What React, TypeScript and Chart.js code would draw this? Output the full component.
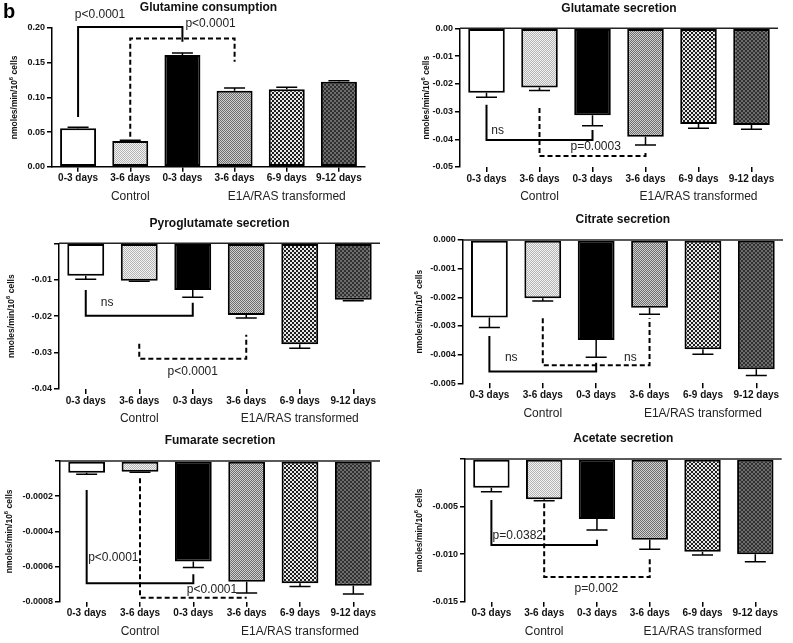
import React, { useEffect, useRef } from 'react';
import { Chart, registerables } from 'chart.js';
Chart.register(...registerables);

const FONT = '"Liberation Sans", Arial, sans-serif';

const categories = ['0-3 days', '3-6 days', '0-3 days', '3-6 days', '6-9 days', '9-12 days'];
const groupLabels = ['Control', 'E1A/RAS transformed'];
const groupLabelIndex = [1.0, 4.0];
const yAxisTitle = ['nmoles/min/10', '6', ' cells'];

// Glutamine consumption
const glutamineValues = [0.0555, 0.037, 0.161, 0.1096, 0.1116, 0.1226];
const glutamineErrors = [0.0015, 0.001, 0.003, 0.004, 0.003, 0.0015];
const glutamineTicks = [0, 0.2, 0.05];
const glutamineBrackets = [
  { dashed: false, pts: [[0, 0.0717], [0, 0.2014], [2, 0.2014], [2, 0.18]] },
  { dashed: true, pts: [[1, 0.0433], [1, 0.185], [3, 0.185], [3, 0.1514]] },
];
const glutamineNotes = [
  { text: 'p<0.0001', x: 0.42, y: 0.2188 },
  { text: 'p<0.0001', x: 2.54, y: 0.2067 },
];

// Glutamate secretion
const glutamateValues = [-0.0232, -0.0213, -0.0313, -0.0391, -0.0345, -0.0349];
const glutamateErrors = [0.0017, 0.0011, 0.0038, 0.003, 0.0015, 0.0015];
const glutamateTicks = [-0.05, 0, 0.01];
const glutamateBrackets = [
  { dashed: false, pts: [[0, -0.0276], [0, -0.0403], [2, -0.0403], [2, -0.0367]] },
  { dashed: true, pts: [[1, -0.0287], [1, -0.046], [3, -0.046], [3, -0.0439]] },
];
const glutamateNotes = [
  { text: 'ns', x: 0.21, y: -0.037 },
  { text: 'p=0.0003', x: 2.06, y: -0.0428 },
];

// Pyroglutamate secretion
const pyroValues = [-0.0089, -0.0103, -0.0128, -0.0197, -0.0277, -0.0155];
const pyroErrors = [0.001, 0.0001, 0.002, 0.0008, 0.0011, 0.0003];
const pyroTicks = [-0.04, 0, 0.01];
const pyroBrackets = [
  { dashed: false, pts: [[0, -0.0128], [0, -0.0199], [2, -0.0199], [2, -0.0163]] },
  { dashed: true, pts: [[1, -0.0276], [1, -0.0317], [3, -0.0317], [3, -0.0251]] },
];
const pyroNotes = [
  { text: 'ns', x: 0.4, y: -0.0163 },
  { text: 'p<0.0001', x: 2.0, y: -0.0352 },
];

// Citrate secretion
const citrateValues = [-0.0027, -0.00203, -0.00349, -0.00236, -0.00381, -0.00451];
const citrateErrors = [0.00035, 0.0001, 0.0006, 0.00023, 0.00018, 0.00022];
const citrateTicks = [-0.005, 0, 0.001];
const citrateBrackets = [
  { dashed: false, pts: [[0, -0.00335], [0, -0.00459], [2, -0.00459], [2, -0.00428]] },
  { dashed: true, pts: [[1, -0.00273], [1, -0.00437], [3, -0.00437], [3, -0.00273]] },
];
const citrateNotes = [
  { text: 'ns', x: 0.41, y: -0.0041 },
  { text: 'ns', x: 2.64, y: -0.0041 },
];

// Fumarate secretion
const fumarateValues = [-0.0000665, -0.0000606, -0.000572, -0.000686, -0.000695, -0.00071];
const fumarateErrors = [0.0000092, 0.0000034, 0.000034, 0.000065, 0.000019, 0.000046];
const fumarateTicks = [-0.0008, 0, 0.0002];
const fumarateBrackets = [
  { dashed: false, pts: [[0, -0.000165], [0, -0.000695], [2, -0.000695], [2, -0.000644]] },
  { dashed: true, pts: [[1, -0.0000985], [1, -0.000777], [3, -0.000777]] },
];
const fumarateNotes = [
  { text: 'p<0.0001', x: 0.5, y: -0.000551 },
  { text: 'p<0.0001', x: 2.35, y: -0.000733 },
];

// Acetate secretion
const acetateValues = [-0.00301, -0.00424, -0.0063, -0.0085, -0.00974, -0.01];
const acetateErrors = [0.00042, 0.00014, 0.00116, 0.00098, 0.00036, 0.0008];
const acetateTicks = [-0.015, 0, 0.005];
const acetateBrackets = [
  { dashed: false, pts: [[0, -0.0043], [0, -0.00903], [2, -0.00903], [2, -0.0085]] },
  { dashed: true, pts: [[1, -0.00466], [1, -0.0124], [3, -0.0124], [3, -0.0104]] },
];
const acetateNotes = [
  { text: 'p=0.0382', x: 0.5, y: -0.00806 },
  { text: 'p=0.002', x: 1.99, y: -0.0136 },
];

const panels = [
  { title: 'Glutamine consumption', values: glutamineValues, errors: glutamineErrors, ticks: glutamineTicks, decimals: 2, hideZero: false, negative: false, brackets: glutamineBrackets, notes: glutamineNotes, letter: 'b',
    box: { left: 0, top: 0, width: 395, height: 210 }, area: { l: 52, t: 28, r: 365, b: 166.7 }, yTitleOffset: 37 },
  { title: 'Glutamate secretion', values: glutamateValues, errors: glutamateErrors, ticks: glutamateTicks, decimals: 2, hideZero: false, negative: true, brackets: glutamateBrackets, notes: glutamateNotes, letter: '',
    box: { left: 395, top: 0, width: 398, height: 210 }, area: { l: 460, t: 28.3, r: 778, b: 167 }, yTitleOffset: 33 },
  { title: 'Pyroglutamate secretion', values: pyroValues, errors: pyroErrors, ticks: pyroTicks, decimals: 2, hideZero: true, negative: true, brackets: pyroBrackets, notes: pyroNotes, letter: '',
    box: { left: 0, top: 210, width: 395, height: 218 }, area: { l: 59, t: 243.3, r: 380, b: 389 }, yTitleOffset: 47 },
  { title: 'Citrate secretion', values: citrateValues, errors: citrateErrors, ticks: citrateTicks, decimals: 3, hideZero: false, negative: true, brackets: citrateBrackets, notes: citrateNotes, letter: '',
    box: { left: 395, top: 210, width: 398, height: 218 }, area: { l: 462.7, t: 240, r: 783, b: 383.3 }, yTitleOffset: 43 },
  { title: 'Fumarate secretion', values: fumarateValues, errors: fumarateErrors, ticks: fumarateTicks, decimals: 4, hideZero: true, negative: true, brackets: fumarateBrackets, notes: fumarateNotes, letter: '',
    box: { left: 0, top: 415, width: 395, height: 228 }, area: { l: 60, t: 461, r: 380, b: 601.7 }, yTitleOffset: 50 },
  { title: 'Acetate secretion', values: acetateValues, errors: acetateErrors, ticks: acetateTicks, decimals: 3, hideZero: true, negative: true, brackets: acetateBrackets, notes: acetateNotes, letter: '',
    box: { left: 395, top: 415, width: 398, height: 228 }, area: { l: 465, t: 459, r: 781.7, b: 601.7 }, yTitleOffset: 45 },
];

function checker(ctx: CanvasRenderingContext2D, cell: number, a: string, b: string) {
  const c = document.createElement('canvas');
  c.width = cell * 2;
  c.height = cell * 2;
  const g = c.getContext('2d')!;
  g.fillStyle = b;
  g.fillRect(0, 0, cell * 2, cell * 2);
  g.fillStyle = a;
  g.fillRect(0, 0, cell, cell);
  g.fillRect(cell, cell, cell, cell);
  return ctx.createPattern(c, 'repeat') as CanvasPattern;
}

function makeFills(ctx: CanvasRenderingContext2D) {
  return [
    '#ffffff',
    checker(ctx, 1, '#b4b4b4', '#f2f2f2'),
    '#000000',
    checker(ctx, 1, '#6e6e6e', '#d0d0d0'),
    checker(ctx, 2, '#1e1e1e', '#e8e8e8'),
    checker(ctx, 2, '#303030', '#6c6c6c'),
  ];
}

const extrasPlugin = {
  id: 'panelExtras',
  afterDraw(chart: any, _args: any, opts: any) {
    const cfg = opts.cfg;
    if (!cfg) return;
    const ctx: CanvasRenderingContext2D = chart.ctx;
    const xs = chart.scales.x;
    const ys = chart.scales.y;
    const area = chart.chartArea;
    const x0 = xs.getPixelForValue(0);
    const x1 = xs.getPixelForValue(1);
    const px = (i: number) => x0 + i * (x1 - x0);
    const py = (v: number) => ys.getPixelForValue(v);
    ctx.save();

    // zero line
    if (cfg.negative) {
      ctx.strokeStyle = '#222';
      ctx.lineWidth = 1.5;
      ctx.beginPath();
      ctx.moveTo(area.left, py(0));
      ctx.lineTo(area.right, py(0));
      ctx.stroke();
    }

    // error bars
    const meta = chart.getDatasetMeta(0);
    ctx.strokeStyle = '#000';
    ctx.lineWidth = 1.5;
    cfg.values.forEach((v: number, i: number) => {
      const bar = meta.data[i];
      const e = cfg.errors[i];
      const end = v >= 0 ? v + e : v - e;
      const ya = py(v);
      const yb = py(end);
      ctx.beginPath();
      ctx.moveTo(bar.x, ya);
      ctx.lineTo(bar.x, yb);
      ctx.moveTo(bar.x - 10.5, yb);
      ctx.lineTo(bar.x + 10.5, yb);
      ctx.stroke();
    });

    // brackets
    cfg.brackets.forEach((br: any) => {
      ctx.strokeStyle = '#000';
      ctx.lineWidth = 2;
      ctx.setLineDash(br.dashed ? [5, 3] : []);
      ctx.beginPath();
      br.pts.forEach((p: number[], k: number) => {
        const X = px(p[0]);
        const Y = py(p[1]);
        if (k === 0) ctx.moveTo(X, Y);
        else ctx.lineTo(X, Y);
      });
      ctx.stroke();
    });
    ctx.setLineDash([]);

    // notes
    ctx.fillStyle = '#222';
    ctx.font = `12px ${FONT}`;
    ctx.textAlign = 'center';
    ctx.textBaseline = 'middle';
    cfg.notes.forEach((n: any) => {
      ctx.fillText(n.text, px(n.x), py(n.y));
    });

    // group labels
    groupLabels.forEach((g, k) => {
      ctx.fillText(g, px(groupLabelIndex[k]), area.bottom + 30);
    });

    // title
    ctx.fillStyle = '#111';
    ctx.font = `bold 12px ${FONT}`;
    ctx.fillText(cfg.title, (area.left + area.right) / 2, area.top - 20);

    // panel letter
    if (cfg.letter) {
      ctx.textAlign = 'left';
      ctx.textBaseline = 'alphabetic';
      ctx.font = `bold 20px ${FONT}`;
      ctx.fillStyle = '#000';
      ctx.fillText(cfg.letter, 3 - cfg.box.left, 18 - cfg.box.top);
    }

    // y axis title
    ctx.save();
    ctx.translate(area.left - cfg.yTitleOffset, (area.top + area.bottom) / 2);
    ctx.rotate(-Math.PI / 2);
    const mainFont = `bold 8.5px ${FONT}`;
    const supFont = `bold 6px ${FONT}`;
    ctx.font = mainFont;
    const w0 = ctx.measureText(yAxisTitle[0]).width;
    const w2 = ctx.measureText(yAxisTitle[2]).width;
    ctx.font = supFont;
    const w1 = ctx.measureText(yAxisTitle[1]).width;
    let cx = -(w0 + w1 + w2) / 2;
    ctx.textAlign = 'left';
    ctx.textBaseline = 'middle';
    ctx.fillStyle = '#111';
    ctx.font = mainFont;
    ctx.fillText(yAxisTitle[0], cx, 0);
    cx += w0;
    ctx.font = supFont;
    ctx.fillText(yAxisTitle[1], cx, -3.5);
    cx += w1;
    ctx.font = mainFont;
    ctx.fillText(yAxisTitle[2], cx, 0);
    ctx.restore();

    ctx.restore();
  },
};

function Panel({ cfg }: { cfg: any }) {
  const ref = useRef<HTMLCanvasElement>(null);
  useEffect(() => {
    const canvas = ref.current!;
    const ctx = canvas.getContext('2d')!;
    const fills = makeFills(ctx);
    const [tmin, tmax, step] = cfg.ticks;
    const chart = new Chart(ctx, {
      type: 'bar',
      data: {
        labels: categories,
        datasets: [
          {
            data: cfg.values,
            backgroundColor: fills as any,
            borderColor: '#000',
            borderWidth: 2,
            borderSkipped: false,
            barPercentage: 0.69,
            categoryPercentage: 1,
          },
        ],
      },
      options: {
        responsive: false,
        maintainAspectRatio: false,
        animation: false,
        devicePixelRatio: 1,
        layout: {
          padding: {
            left: 0,
            top: cfg.area.t - cfg.box.top,
            right: cfg.box.left + cfg.box.width - cfg.area.r,
            bottom: 0,
          },
        },
        plugins: {
          legend: { display: false },
          tooltip: { enabled: false },
          title: { display: false },
          panelExtras: { cfg },
        } as any,
        scales: {
          x: {
            type: 'category',
            offset: true,
            border: { display: !cfg.negative, color: '#000', width: 1.5 },
            grid: { display: true, drawOnChartArea: false, offset: false, tickLength: 5, color: '#000', lineWidth: 1.5 },
            ticks: { font: { family: FONT, size: 10, weight: 'bold' }, color: '#111', padding: 1, maxRotation: 0, autoSkip: false },
            afterFit: (s: any) => {
              s.height = cfg.box.top + cfg.box.height - cfg.area.b;
            },
          },
          y: {
            min: tmin,
            max: tmax,
            border: { display: true, color: '#000', width: 1.5 },
            grid: { drawOnChartArea: false, tickLength: 5, color: '#000', lineWidth: 1.5 },
            ticks: {
              stepSize: step,
              font: { family: FONT, size: 9, weight: 'bold' },
              color: '#111',
              padding: 2,
              callback: (v: any) => (cfg.hideZero && Math.abs(Number(v)) < 1e-12 ? '' : Number(v).toFixed(cfg.decimals)),
            },
            afterFit: (s: any) => {
              s.width = cfg.area.l - cfg.box.left;
            },
          },
        } as any,
      },
      plugins: [extrasPlugin],
    });
    return () => chart.destroy();
  }, [cfg]);
  const { left, top, width, height } = cfg.box;
  return (
    <div style={{ position: 'absolute', left, top, width, height, pointerEvents: 'none' }}>
      <canvas ref={ref} width={width} height={height} style={{ width, height, display: 'block' }} />
    </div>
  );
}

export default function App() {
  return (
    <div style={{ position: 'fixed', left: 0, top: 0, width: 793, height: 643, background: '#fff', overflow: 'hidden' }}>
      {panels.map((p, i) => (
        <Panel key={i} cfg={p} />
      ))}
    </div>
  );
}
